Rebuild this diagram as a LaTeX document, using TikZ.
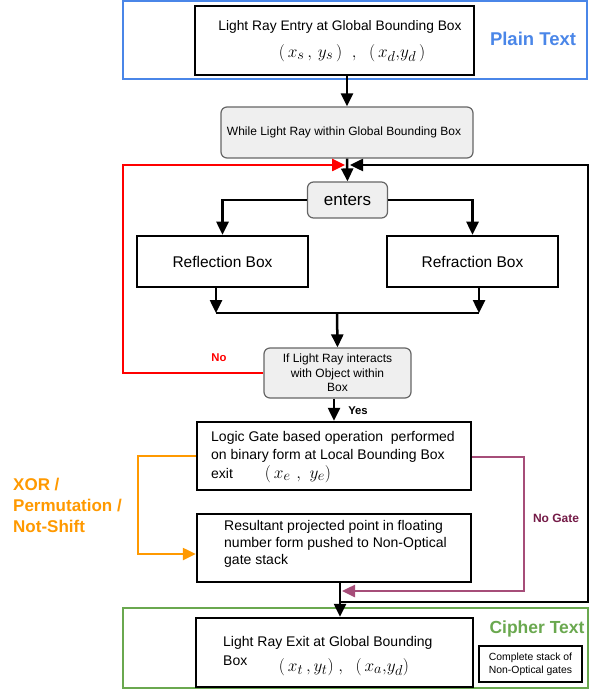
\documentclass[tikz,border=0pt]{standalone}
\usepackage{fontspec}
\setmainfont{Liberation Sans}
\usetikzlibrary{arrows.meta,calc}
\definecolor{gblue}{HTML}{4A86E8}
\definecolor{ggreen}{HTML}{6AA84F}
\definecolor{gred}{HTML}{FF0000}
\definecolor{gorange}{HTML}{FF9900}
\definecolor{gpurple}{HTML}{A64D79}
\definecolor{gpurpletxt}{HTML}{741B47}
\definecolor{gfill}{HTML}{EFEFEF}
\definecolor{gborder}{HTML}{666666}
\tikzset{
  box/.style={draw=black, line width=2.5pt, rectangle, inner sep=0pt},
  rbox/.style={draw=gborder, fill=gfill, rounded corners=6pt, line width=1.2pt, rectangle, inner sep=0pt},
  frame/.style={line width=2.5pt, rectangle, inner sep=0pt},
  conn/.style={line width=2.5pt},
  arr/.style={conn, -{Triangle[length=13pt,width=12pt]}},
  txt/.style={inner sep=0pt},
  mth/.style={inner sep=0pt, font=\fontsize{19}{22}\selectfont},
}
\begin{document}
\begin{tikzpicture}[x=1pt,y=-1pt]
\useasboundingbox (0,0) rectangle (589,692);
% frames
\node[frame, draw=gblue, minimum width=464pt, minimum height=78pt] (plain) at (355,40) {};
\node[frame, draw=ggreen, minimum width=465pt, minimum height=80pt] (cipher) at (355.5,648) {};
\node[txt, text=gblue, font=\fontsize{18.5}{20}\bfseries] (plainlbl) at (533,39) {Plain Text};
\node[txt, text=ggreen, font=\fontsize{17.5}{20}\bfseries] (cipherlbl) at (537,629) {Cipher Text};
% entry
\node[box, fill=white, minimum width=279pt, minimum height=69pt] (entry) at (334.5,40.5) {};
\node[txt, font=\fontsize{13.8}{16}\selectfont] (entrytxt) at (340,27) {Light Ray Entry at Global Bounding Box};
\node[mth] (entrymath) at (352,53) {$(\,x_{s}\,,\,y_{s}\,)\;\;,\;\;(\,x_{d}{,}y_{d}\,)$};
% while
\node[rbox, minimum width=252pt, minimum height=51pt, font=\fontsize{12}{14}\selectfont] (while) at (347,132.5) {\hspace*{-6pt}While Light Ray within Global Bounding Box};
\coordinate (m) at (347,165);
% enters
\node[rbox, minimum width=80pt, minimum height=36pt, font=\fontsize{17}{20}\selectfont] (enters) at (347.5,200) {enters};
% reflection / refraction
\node[box, minimum width=171pt, minimum height=51pt, font=\fontsize{15.5}{18}\selectfont] (refl) at (222.5,261.5) {Reflection Box};
\node[box, minimum width=171pt, minimum height=51pt, font=\fontsize{15.5}{18}\selectfont] (refr) at (472.5,261.5) {Refraction Box};
\coordinate (jl) at (216,313);
\coordinate (jr) at (479,313);
\coordinate (jc) at (337,313);
% decision
\node[rbox, minimum width=147pt, minimum height=50pt, align=center, font=\fontsize{12}{14.3}\selectfont] (dec) at (337.5,373) {If Light Ray interacts\\with Object within\\Box};
% logic
\node[box, minimum width=274pt, minimum height=68pt] (logic) at (334,456) {};
\node[txt, anchor=west, align=left, font=\fontsize{14}{17.5}\selectfont] (logictxt) at (211,447) {Logic Gate based operation\ \ performed\\on binary form at Local Bounding Box};
\node[txt, anchor=west, font=\fontsize{14}{17}\selectfont] (exitword) at (211,473) {exit};
\node[mth] (logicmath) at (298,474) {$(\,x_{e}\,\,,\,\,y_{e})$};
% result
\node[box, minimum width=274pt, minimum height=68pt] (result) at (334,548) {};
\node[txt, anchor=west, align=left, font=\fontsize{14}{17}\selectfont] (resulttxt) at (224,544) {Resultant projected point in floating\\number form pushed to Non-Optical\\gate stack};
% exit
\node[box, fill=white, minimum width=277pt, minimum height=69pt] (exit) at (334.5,652.5) {};
\node[txt, anchor=west, font=\fontsize{14}{17}\selectfont] (exittxt) at (223,643) {Light Ray Exit at Global Bounding};
\node[txt, anchor=west, font=\fontsize{14}{17}\selectfont] (exitbox) at (223,661) {Box};
\node[mth] (exitmath) at (344,667) {$(\,x_{t}\,{,}\,y_{t})\;,\;\;(\,x_{a}{,}y_{d})$};
% stack
\node[draw=black, line width=1.3pt, rectangle, inner sep=0pt, minimum width=103pt, minimum height=36pt, align=center, font=\fontsize{10.4}{12.7}\selectfont] (stack) at (530.5,664) {Complete stack of\\Non-Optical gates};
% connectors
\draw[arr] (m |- entry.south) -- (while.north);
\draw[arr] (while.south) -- (enters.north);
\draw[arr] (enters.west) -| (refl.north);
\draw[arr] (enters.east) -| (refr.north);
\draw[arr] (jl |- refl.south) -- (jl);
\draw[arr] (jr |- refr.south) -- (jr);
\draw[conn] (jl) -- (jr);
\draw[arr] (jc) -- (dec.north);
\draw[arr] (logic.north |- dec.south) -- (logic.north);
% red No loop
\coordinate (redleft) at (123,165);
\draw[arr, draw=gred] (dec.west) -| (redleft) -- ($(m)+(-2,0)$);
\node[txt, text=gred, font=\fontsize{11.3}{13}\bfseries] (nolbl) at (219,358) {No};
\node[txt, font=\fontsize{11.3}{13}\bfseries] (yeslbl) at (358,411) {Yes};
% orange
\coordinate (orTop) at (138,456);
\coordinate (orBot) at (138,554);
\draw[arr, draw=gorange] (logic.west |- orTop) -- (orTop) -- (orBot) -- (result.west |- orBot);
\node[txt, anchor=west, align=left, text=gorange, font=\fontsize{17}{21}\bfseries] (xorlbl) at (13,505) {XOR /\\Permutation /\\Not-Shift};
% purple no gate
\coordinate (puTop) at (524,457);
\coordinate (puBot) at (524,591);
\draw[arr, draw=gpurple] (logic.east |- puTop) -- (puTop) -- (puBot) -- (342,591);
\node[txt, text=gpurpletxt, font=\fontsize{12}{14}\bfseries] (nogate) at (556,518) {No Gate};
% result to exit
\coordinate (rx) at (340,582);
\draw[arr] (rx |- result.south) -- (rx |- exit.north);
% black loop back
\coordinate (lb) at (340,602);
\coordinate (lr) at (588,602);
\coordinate (lt) at (588,165);
\draw[arr] (lb) -- (lr) -- (lt) -- ($(m)+(3,0)$);
\end{tikzpicture}
\end{document}
